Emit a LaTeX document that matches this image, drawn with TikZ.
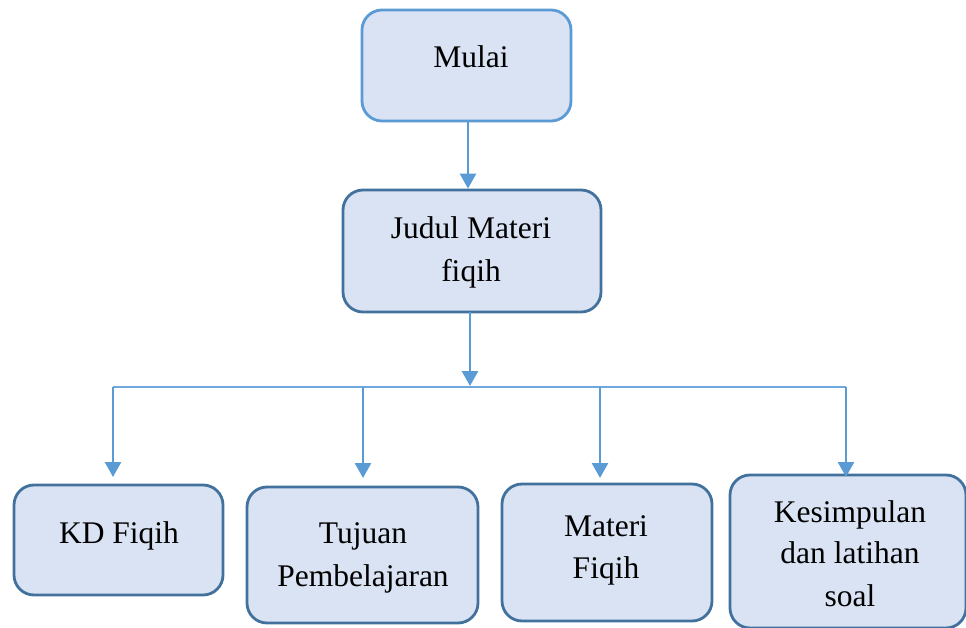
\documentclass[tikz,border=0pt]{standalone}
\usepackage{fontspec}
\setmainfont{Liberation Serif}
\usetikzlibrary{arrows.meta}
\definecolor{boxfill}{HTML}{DAE3F3}
\definecolor{lightedge}{HTML}{5B9BD5}
\definecolor{darkedge}{HTML}{41719C}
\definecolor{arrowblue}{HTML}{5B9BD5}
\definecolor{barblue}{HTML}{6FA8DC}
\begin{document}
\begin{tikzpicture}[x=1pt,y=-1pt,
  box/.style={draw=darkedge, fill=boxfill, line width=2.8pt, rounded corners=20pt, inner sep=0pt},
  lbl/.style={font=\fontsize{31.5}{42}\selectfont, align=center, anchor=base, inner sep=0pt},
  arr/.style={draw=arrowblue, line width=2.6pt, -{Triangle[width=16pt,length=15pt]}},
  barline/.style={draw=barblue, line width=1.8pt}]
\useasboundingbox (0,0) rectangle (966,628);
\clip (0,0) rectangle (966,628);
% boxes
\node[box, draw=lightedge, minimum width=209pt, minimum height=111pt] (mulai) at (466.5,65.5) {};
\node[box, minimum width=258pt, minimum height=122pt] (judul) at (472,251) {};
\node[box, minimum width=209pt, minimum height=110pt] (kd) at (118.5,540) {};
\node[box, minimum width=231pt, minimum height=136pt] (tujuan) at (362.5,555) {};
\node[box, minimum width=210pt, minimum height=137pt] (materi) at (607,552.5) {};
\node[box, minimum width=236pt, minimum height=153pt] (kes) at (848,551.5) {};
% texts
\node[lbl] (tmulai) at (471,68) {Mulai};
\node[lbl] (tjudul1) at (471,239) {Judul Materi};
\node[lbl] (tjudul2) at (471,281) {fiqih};
\node[lbl] (tkd) at (119,543) {KD Fiqih};
\node[lbl] (ttuj1) at (363,543) {Tujuan};
\node[lbl] (ttuj2) at (363,586) {Pembelajaran};
\node[lbl] (tmat1) at (606,536) {Materi};
\node[lbl] (tmat2) at (606,578) {Fiqih};
\node[lbl] (tkes1) at (850,522) {Kesimpulan};
\node[lbl] (tkes2) at (850,563) {dan latihan};
\node[lbl] (tkes3) at (850,606) {soal};
% connectors
\coordinate (m1) at (468,121);
\draw[arr] (m1) -- (m1 |- judul.north);
\coordinate (j1) at (470,312);
\coordinate (j2) at (470,386);
\draw[arr] (j1) -- (j2);
\coordinate (b1) at (113,387);
\coordinate (b2) at (363,387);
\coordinate (b3) at (600,387);
\coordinate (b4) at (846,387);
\draw[barline] (b1) -- (b4);
\draw[arr] (b1) -- (113,477);
\draw[arr] (b2) -- (363,478);
\draw[arr] (b3) -- (600,478);
\draw[arr] (b4) -- (846,477);
\end{tikzpicture}
\end{document}
